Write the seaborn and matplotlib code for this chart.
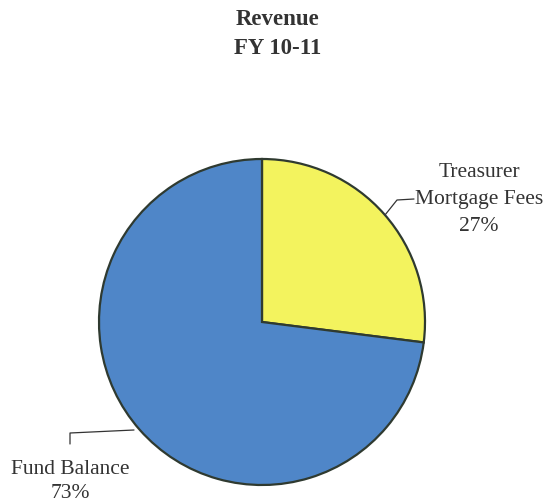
import matplotlib
matplotlib.use("Agg")
import matplotlib.pyplot as plt
import seaborn as sns

# Revenue sources, FY 10-11 (percent of total)
categories = ["Treasurer\nMortgage Fees", "Fund Balance"]
shares = [27, 73]
share_labels = ["27%", "73%"]
slice_colors = ["#F3F35E", "#4F86C8"]

sns.set_theme(style="white")
plt.rcParams["font.family"] = ["Liberation Serif", "DejaVu Serif"]

W, H = 550, 503
fig = plt.figure(figsize=(W / 100, H / 100), dpi=100)
ax = fig.add_axes([0, 0, 1, 1])

cx, cy, r = 262, H - 322, 163
ax.pie(shares, colors=slice_colors, startangle=90, counterclock=False,
       center=(cx, cy), radius=r, frame=True,
       wedgeprops=dict(edgecolor="#2f3a30", linewidth=1.6))
ax.set_xlim(0, W)
ax.set_ylim(0, H)
ax.set_aspect("equal")
ax.axis("off")

txt = "#333333"
fs = 15.5


def stacked(x, ys, lines, **kw):
    for y, line in zip(ys, lines):
        ax.text(x, H - y, line, ha="center", va="center", color=txt, **kw)


# Title
stacked(278, [19, 48], ["Revenue", "FY 10-11"], fontsize=16.5, fontweight="bold")

# Treasurer Mortgage Fees label with leader line
ax.plot([385, 397, 414], [H - 215, H - 200, H - 199], color=txt, lw=0.9)
stacked(479, [172, 199, 226],
        categories[0].split("\n") + [share_labels[0]], fontsize=fs)

# Fund Balance label with leader line
ax.plot([134, 70, 70], [H - 430, H - 433, H - 444], color=txt, lw=0.9)
stacked(70, [470, 493], [categories[1], share_labels[1]], fontsize=fs)

fig.savefig("out.png", dpi=100, facecolor="white")
